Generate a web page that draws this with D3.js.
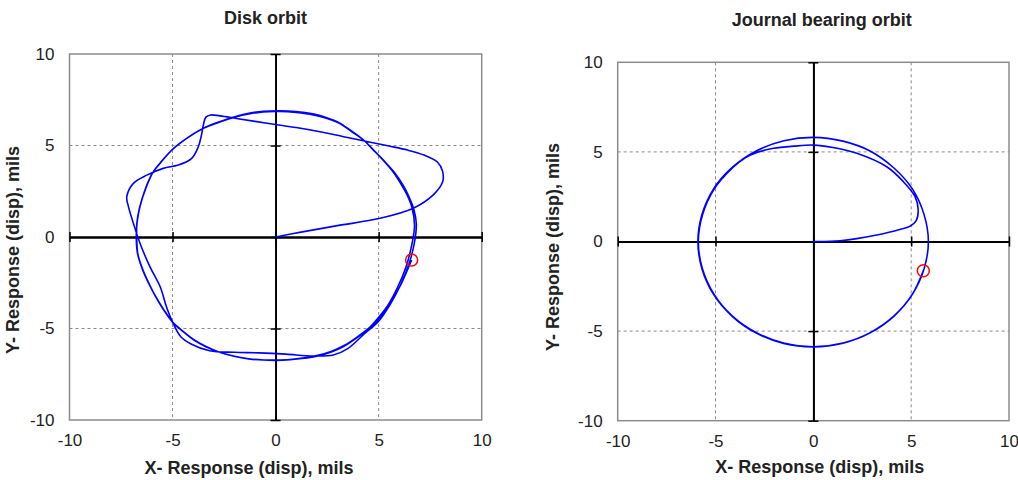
<!DOCTYPE html>
<html>
<head>
<meta charset="utf-8">
<script src="https://cdn.jsdelivr.net/npm/d3@7"></script>
<style>
  html, body { margin: 0; padding: 0; background: #fff; }
  svg { display: block; font-family: "Liberation Sans", Arial, sans-serif; }
</style>
</head>
<body>
<svg id="chart" width="1018" height="480"></svg>
<script>
// ---------- data ----------
const tickValues = [-10, -5, 0, 5, 10];
const tickLabels = ["-10", "-5", "0", "5", "10"];
const gridValues = [-5, 5];
const titles = ["Disk orbit", "Journal bearing orbit"];
const xLabel = "X- Response (disp), mils";
const yLabel = "Y- Response (disp), mils";

// Disk orbit trajectory (x, y) in mils: start-up transient, then two steady revolutions
const diskTransient = [
  [0,0],[1.3,0.28],[3.0,0.62],[5.07,1.02],[6.68,1.57],[7.65,2.3],[8.1,3.0],[8.1,3.6],[7.85,4.1],
  [7.2,4.48],[6.4,4.75],[5.5,4.97],[4.6,5.18],[3.3,5.48],[2.15,5.75],[1.0,5.98],[0,6.15],
  [-1.0,6.32],[-1.9,6.48],[-2.7,6.62],[-3.15,6.67],[-3.38,6.55],[-3.5,6.15],[-3.6,5.55],
  [-3.75,4.93],[-4.07,4.3],[-4.72,3.93],[-5.45,3.75],[-6.25,3.38],[-6.9,2.93],[-7.22,2.2],
  [-7.14,1.66],[-6.9,0.75],[-6.58,-0.34],[-6.1,-1.62],[-5.6,-2.72],[-5.3,-3.8],[-5.0,-4.65],
  [-4.6,-5.45],[-4.1,-5.85],[-3.2,-6.22],[-2.0,-6.3],[-0.8,-6.33],[0.5,-6.4],[1.8,-6.5],
  [2.8,-6.45],[3.5,-6.1],[4.3,-5.3]
];
const diskRev1 = [
  [5.0,-4.6],[5.55,-3.7],[6.05,-2.65],[6.45,-1.55],[6.72,-0.4],[6.83,0.7],[6.7,1.55],[6.45,2.25],
  [6.2,2.8],[5.75,3.55],[5.23,4.2],[4.75,4.75],[4.26,5.3],[3.7,5.75],[3.12,6.2],[2.5,6.47],
  [1.83,6.67],[1.0,6.8],[0.2,6.86],[-0.6,6.84],[-1.3,6.72],[-1.9,6.57],[-2.7,6.28],[-3.5,5.94],
  [-4.3,5.4],[-5.04,4.75],[-5.55,4.1],[-5.93,3.57],[-6.3,2.65],[-6.58,1.66],[-6.72,0.8],
  [-6.76,0],[-6.7,-0.9],[-6.45,-1.8],[-6.15,-2.55],[-5.85,-3.2],[-5.45,-3.95],[-5.0,-4.65],
  [-4.55,-5.1],[-4.0,-5.58],[-3.4,-5.97],[-2.75,-6.28],[-2.05,-6.5],[-1.3,-6.65],[-0.6,-6.72],
  [0,-6.74],[0.7,-6.71],[1.4,-6.63],[2.0,-6.52],[2.7,-6.28],[3.3,-5.98],[3.8,-5.62],[4.4,-5.12]
];
const diskRev2 = [
  [4.9,-4.52],[5.45,-3.72],[5.93,-2.72],[6.33,-1.62],[6.6,-0.47],[6.74,0.62],[6.62,1.6],[6.38,2.3],
  [6.1,2.87],[5.66,3.62],[5.16,4.27],[4.7,4.82],[4.22,5.35],[3.65,5.82],[3.08,6.25],[2.45,6.53],
  [1.8,6.73],[0.98,6.86],[0.2,6.9],[-0.6,6.87],[-1.3,6.76],[-1.9,6.6],[-2.72,6.3],[-3.55,5.92],
  [-4.35,5.36],[-5.08,4.7],[-5.6,4.05],[-5.97,3.5],[-6.33,2.6],[-6.6,1.6],[-6.73,0.78],
  [-6.74,0],[-6.68,-0.95],[-6.42,-1.85],[-6.12,-2.6],[-5.82,-3.25],[-5.42,-3.98],[-5.0,-4.65],
  [-4.52,-5.14],[-3.98,-5.62],[-3.38,-6.0],[-2.72,-6.3],[-2.02,-6.52],[-1.3,-6.66],[-0.6,-6.72],
  [0,-6.72],[0.7,-6.69],[1.4,-6.6],[2.0,-6.48],[2.72,-6.24],[3.32,-5.93],[3.85,-5.55],[4.45,-5.05],
  [4.98,-4.52],[5.58,-3.6],[6.1,-2.55],[6.6,-1.26]
];
const diskEnd = [6.6, -1.26];

// Journal bearing orbit trajectory (x, y) in mils
const journalTransient = [
  [0,0],[1.37,0.04],[3.24,0.36],[4.5,0.7],[4.94,0.85],[5.25,1.15],[5.36,1.76],[5.2,2.5],
  [4.6,3.34],[3.75,4.17],[2.22,4.92],[1.0,5.25],[0,5.38],[-1.0,5.32],[-2.04,5.2],[-2.85,4.98],
  [-3.5,4.66]
];
const journalRev1 = [
  [-4.14,4.1],[-5.07,2.92],[-5.66,1.5],[-5.88,0],[-5.67,-1.52],[-5.08,-2.94],[-4.15,-4.15],
  [-2.93,-5.08],[-1.52,-5.67],[0,-5.87],[1.52,-5.66],[2.93,-5.07],[4.14,-4.14],[5.07,-2.93],
  [5.66,-1.52],[5.88,0],[5.66,1.5],[5.07,2.92],[4.12,4.1],[2.92,5.04],[1.51,5.6],[0,5.81],
  [-1.5,5.62],[-2.92,5.05]
];
const journalRev2 = [
  [-4.16,4.12],[-5.1,2.94],[-5.69,1.52],[-5.9,0],[-5.69,-1.53],[-5.1,-2.95],[-4.16,-4.16],
  [-2.94,-5.1],[-1.52,-5.69],[0,-5.88],[1.52,-5.67],[2.93,-5.08],[4.14,-4.15],[5.06,-2.94],
  [5.62,-1.63]
];
const journalEnd = [5.62, -1.63];

// ---------- layout ----------
const panels = [
  { title: titles[0], data: diskTransient.concat(diskRev1, diskRev2), end: diskEnd,
    left: 69.5, right: 481.7, top: 54, bottom: 420,
    titleX: 265.5, titleY: 24, xLabX: 249, xLabY: 474, yLabX: 19, yLabY: 250 },
  { title: titles[1], data: journalTransient.concat(journalRev1, journalRev2), end: journalEnd,
    left: 617.7, right: 1009, top: 62.3, bottom: 420.7,
    titleX: 821.8, titleY: 26, xLabX: 819.7, xLabY: 473, yLabX: 559, yLabY: 247 }
];

const svg = d3.select("#chart");

panels.forEach(p => {
  const x = d3.scaleLinear().domain([-10, 10]).range([p.left, p.right]);
  const y = d3.scaleLinear().domain([-10, 10]).range([p.bottom, p.top]);
  const g = svg.append("g");

  // dashed grid
  g.append("g").selectAll("line").data(gridValues).join("line")
    .attr("x1", d => x(d)).attr("x2", d => x(d))
    .attr("y1", p.top).attr("y2", p.bottom)
    .attr("stroke", "#8a8a8a").attr("stroke-width", 1).attr("stroke-dasharray", "3,3");
  g.append("g").selectAll("line").data(gridValues).join("line")
    .attr("y1", d => y(d)).attr("y2", d => y(d))
    .attr("x1", p.left).attr("x2", p.right)
    .attr("stroke", "#8a8a8a").attr("stroke-width", 1).attr("stroke-dasharray", "3,3");

  // frame
  g.append("rect")
    .attr("x", p.left).attr("y", p.top)
    .attr("width", p.right - p.left).attr("height", p.bottom - p.top)
    .attr("fill", "none").attr("stroke", "#8c8c8c").attr("stroke-width", 1.5);

  // zero axes with crossing ticks
  const styleZero = sel => {
    sel.selectAll("text").remove();
    sel.select(".domain").attr("stroke", "#000").attr("stroke-width", 1.8);
    sel.selectAll(".tick line").attr("stroke", "#000").attr("stroke-width", 1.5);
  };
  g.append("g").attr("transform", `translate(0,${y(0)})`)
    .call(d3.axisBottom(x).tickValues(tickValues).tickSize(5).tickSizeOuter(0)).call(styleZero);
  g.append("g").attr("transform", `translate(0,${y(0)})`)
    .call(d3.axisTop(x).tickValues(tickValues).tickSize(5).tickSizeOuter(0)).call(styleZero);
  g.append("g").attr("transform", `translate(${x(0)},0)`)
    .call(d3.axisLeft(y).tickValues(tickValues).tickSize(5).tickSizeOuter(0)).call(styleZero);
  g.append("g").attr("transform", `translate(${x(0)},0)`)
    .call(d3.axisRight(y).tickValues(tickValues).tickSize(5).tickSizeOuter(0)).call(styleZero);

  // tick labels
  const xt = g.append("g").attr("transform", `translate(0,${p.bottom})`)
    .call(d3.axisBottom(x).tickValues(tickValues).tickFormat((d, i) => tickLabels[i]).tickSize(0).tickPadding(14));
  xt.select(".domain").remove();
  xt.selectAll("text").attr("font-size", 17).attr("fill", "#222")
    .attr("font-family", "Liberation Sans, Arial, sans-serif");
  const yt = g.append("g").attr("transform", `translate(${p.left},0)`)
    .call(d3.axisLeft(y).tickValues(tickValues).tickFormat((d, i) => tickLabels[i]).tickSize(0).tickPadding(15));
  yt.select(".domain").remove();
  yt.selectAll("text").attr("font-size", 17).attr("fill", "#222")
    .attr("font-family", "Liberation Sans, Arial, sans-serif");

  // orbit
  const line = d3.line().x(d => x(d[0])).y(d => y(d[1])).curve(d3.curveCatmullRom.alpha(0.5));
  g.append("path").datum(p.data).attr("d", line)
    .attr("fill", "none").attr("stroke", "#0000ff").attr("stroke-width", 1.6)
    .attr("stroke-linejoin", "round");

  // end marker
  g.append("circle").attr("cx", x(p.end[0])).attr("cy", y(p.end[1])).attr("r", 6)
    .attr("fill", "none").attr("stroke", "#ff0000").attr("stroke-width", 1.5);

  // texts
  g.append("text").attr("x", p.titleX).attr("y", p.titleY).attr("text-anchor", "middle")
    .attr("font-size", 18).attr("font-weight", "bold").attr("fill", "#222").text(p.title);
  g.append("text").attr("x", p.xLabX).attr("y", p.xLabY).attr("text-anchor", "middle")
    .attr("font-size", 18).attr("font-weight", "bold").attr("fill", "#222").text(xLabel);
  g.append("text").attr("transform", `translate(${p.yLabX},${p.yLabY}) rotate(-90)`)
    .attr("text-anchor", "middle")
    .attr("font-size", 18).attr("font-weight", "bold").attr("fill", "#222").text(yLabel);
});
</script>
</body>
</html>
